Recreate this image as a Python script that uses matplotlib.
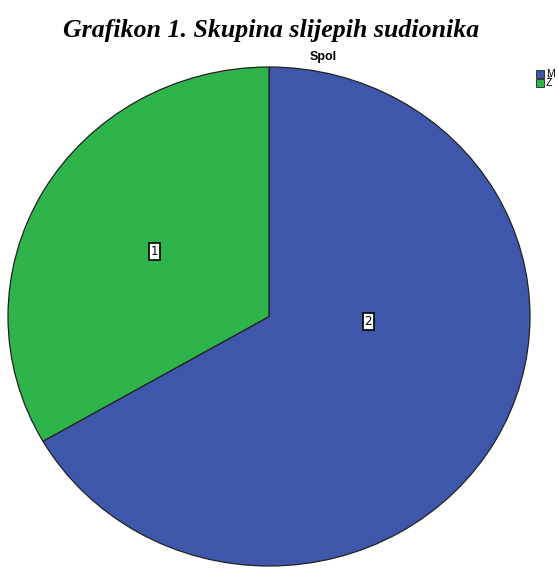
import matplotlib.pyplot as plt
from matplotlib.patches import Rectangle

# data
categories = ['M', 'Ž']
counts = [2, 1]
colors = ['#3F57AB', '#2EB44A']

W, H = 558, 569
fig = plt.figure(figsize=(W / 100, H / 100), dpi=100)

# pie area in pixel coords (left, top, right, bottom)
l, t, r, b = 8, 67, 530, 566
ax = fig.add_axes([l / W, 1 - b / H, (r - l) / W, (b - t) / H])
wedges, _ = ax.pie(counts, colors=colors, startangle=90, counterclock=False,
                   wedgeprops=dict(edgecolor='#222222', linewidth=0.9))
ax.set_xlim(-1, 1)
ax.set_ylim(-1, 1)
ax.set_aspect('auto')
ax.axis('off')

# count labels in boxes
box = dict(boxstyle='square,pad=0.15', facecolor='white', edgecolor='black', linewidth=1.2)
ax.text(-0.44, 0.26, str(counts[1]), ha='center', va='center', fontsize=8.5, bbox=box)
ax.text(0.38, -0.02, str(counts[0]), ha='center', va='center', fontsize=8.5, bbox=box)

fig.text(271 / W, 1 - 30 / H, 'Grafikon 1. Skupina slijepih sudionika',
         ha='center', va='center', fontsize=18.6, fontweight='bold', fontstyle='italic',
         family='Liberation Serif')
fig.text(323 / W, 1 - 57 / H, 'Spol', ha='center', va='center', fontsize=9,
         fontweight='bold', family='Liberation Sans')

# legend drawn manually at the right edge
for i, (lab, c) in enumerate(zip(categories, colors)):
    y = 74 + i * 9
    fig.patches.append(Rectangle((536 / W, 1 - (y + 4) / H), 8 / W, 8 / H,
                                 transform=fig.transFigure, facecolor=c,
                                 edgecolor='#222222', linewidth=0.6))
    fig.text(546 / W, 1 - y / H, lab, ha='left', va='center', fontsize=7.5,
             family='Liberation Sans')

fig.savefig('out.png', dpi=100)
